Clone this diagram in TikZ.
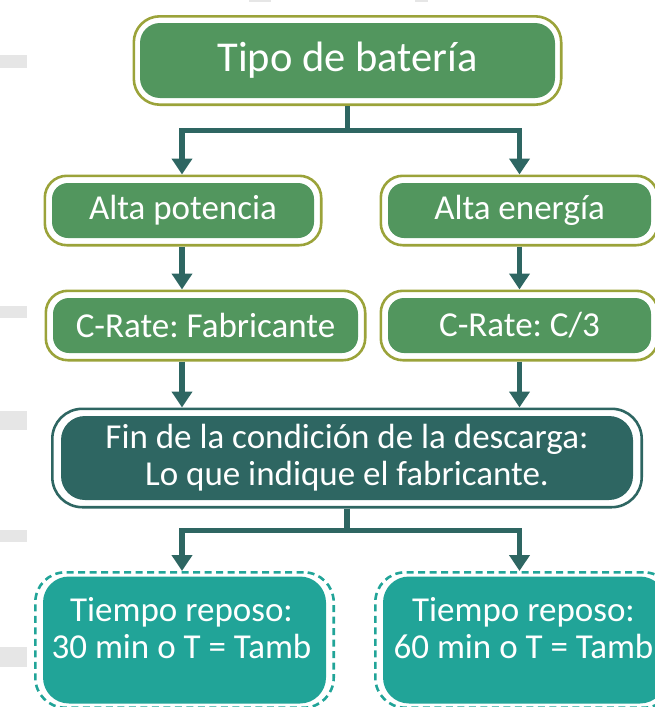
\documentclass[tikz,border=0pt]{standalone}
\usepackage{fontspec}
\setmainfont{Carlito}
\usetikzlibrary{arrows.meta,fit}
\definecolor{boxgreen}{HTML}{52965E}
\definecolor{frameolive}{HTML}{9BA33A}
\definecolor{darkteal}{HTML}{2E6662}
\definecolor{lightteal}{HTML}{21A498}
\definecolor{marggrey}{HTML}{E6E6E6}
\frenchspacing
\begin{document}
\begin{tikzpicture}[x=1pt,y=-1pt,
  txt/.style={text=white, align=center, inner sep=0pt, font=\fontsize{35}{37}\selectfont},
  greenbox/.style={txt, fill=boxgreen, rounded corners=16pt},
  tealbox/.style={txt, fill=darkteal, rounded corners=24pt},
  restbox/.style={fill=lightteal, rounded corners=26pt, inner sep=0pt},
  oliveframe/.style={draw=frameolive, line width=2.6pt, rounded corners=22pt, inner sep=7pt},
  tealframe/.style={draw=darkteal, line width=2.6pt, rounded corners=30pt, inner xsep=8.5pt, inner ysep=7pt},
  dashframe/.style={draw=lightteal, line width=2.6pt, dash pattern=on 7pt off 4.5pt, rounded corners=30pt, inner xsep=7.5pt, inner ysep=4pt},
  link/.style={draw=darkteal, line width=5.5pt},
  arrowlink/.style={link, -{Triangle[width=20pt,length=16pt]}},
  greyrect/.style={fill=marggrey}
]
\useasboundingbox (0,0) rectangle (655,707);

% margin marks
\fill[greyrect] (0,55) rectangle (27,68);
\fill[greyrect] (0,306) rectangle (27,318);
\fill[greyrect] (0,411) rectangle (27,430);
\fill[greyrect] (0,530) rectangle (27,542);
\fill[greyrect] (0,647) rectangle (27,667);
\fill[greyrect] (249,0) rectangle (271,1.5);
\fill[greyrect] (415,0) rectangle (428,1.5);

% column guides
\coordinate (colL) at (182,0);
\coordinate (colR) at (519.5,0);
\coordinate (jA) at (0,130.5);
\coordinate (jB) at (0,530.5);

% nodes
\node[greenbox, minimum width=415pt, minimum height=75pt, rounded corners=20pt,
      font=\fontsize{42.5}{45}\selectfont] (tipo) at (347.5,60.5) {Tipo de batería};
\node[oliveframe, fit=(tipo), inner xsep=6pt, inner ysep=6.5pt, rounded corners=26pt] (tipoF) {};

\node[greenbox, minimum width=262pt, minimum height=55pt] (altaP) at (183,210.5) {Alta potencia};
\node[oliveframe, fit=(altaP)] (altaPF) {};
\node[greenbox, minimum width=263pt, minimum height=55pt] (altaE) at (519.5,210.5) {Alta energía};
\node[oliveframe, fit=(altaE)] (altaEF) {};

\node[greenbox, minimum width=305pt, minimum height=55pt] (crateF) at (205.5,325.5) {C-Rate: Fabricante};
\node[oliveframe, fit=(crateF)] (crateFF) {};
\node[greenbox, minimum width=263pt, minimum height=55pt] (crateC) at (519.5,325.5) {C-Rate: C/3};
\node[oliveframe, fit=(crateC)] (crateCF) {};

\node[tealbox, minimum width=572pt, minimum height=84pt] (fin) at (347,458)
  {Fin de la condición de la descarga:\\Lo que indique el fabricante.};
\node[tealframe, fit=(fin)] (finF) {};

\node[restbox, minimum width=283pt, minimum height=127pt] (rest1) at (184.5,640) {};
\node[dashframe, fit=(rest1)] (rest1F) {};
\node[txt] (rest1T) at (181.5,628.5) {Tiempo reposo:\\30 min o T = Tamb};
\node[restbox, minimum width=283pt, minimum height=127pt] (rest2) at (524.5,640) {};
\node[dashframe, fit=(rest2)] (rest2F) {};
\node[txt] (rest2T) at (523.5,628.5) {Tiempo reposo:\\60 min o T = Tamb};

% connectors
\draw[arrowlink] (tipoF.south) |- (colL |- jA) -- (colL |- altaPF.north);
\draw[arrowlink] (tipoF.south) |- (colR |- jA) -- (colR |- altaEF.north);
\draw[arrowlink] (colL |- altaPF.south) -- (colL |- crateFF.north);
\draw[arrowlink] (colR |- altaEF.south) -- (colR |- crateCF.north);
\draw[arrowlink] (colL |- crateFF.south) -- (colL |- finF.north);
\draw[arrowlink] (colR |- crateCF.south) -- (colR |- finF.north);
\draw[arrowlink] (finF.south) |- (colL |- jB) -- (colL |- rest1F.north);
\draw[arrowlink] (finF.south) |- (colR |- jB) -- (colR |- rest2F.north);
\end{tikzpicture}
\end{document}
